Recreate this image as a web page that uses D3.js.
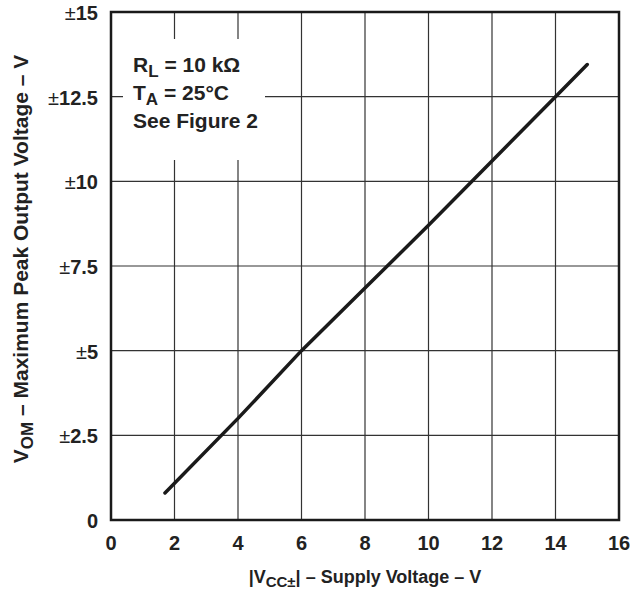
<!DOCTYPE html>
<html lang="en">
<head>
  <meta charset="UTF-8">
  <title>VOM vs supply voltage</title>
  <script src="https://d3js.org/d3.v7.min.js"></script>
  <style>
    body { margin: 0; padding: 0; background: #fff; }
    svg { display: block; font-family: "Liberation Sans", Arial, sans-serif; font-weight: bold; }
    .grid line { stroke: #333; stroke-width: 1.2px; }
    .tick-label { font-size: 20px; fill: #222; }
    .pm { font-weight: normal; }
  </style>
</head>
<body>
  <svg width="630" height="592"></svg>
  <script>
    // --- data ---
    const supplyV = [1.7, 4, 6, 8, 10, 12, 14, 15];
    const peakV   = [0.8, 3, 5, 6.85, 8.7, 10.6, 12.5, 13.45];
    const xTicks = [0, 2, 4, 6, 8, 10, 12, 14, 16];
    const yTicks = [0, 2.5, 5, 7.5, 10, 12.5, 15];
    const yTickLabels = ["0", "2.5", "5", "7.5", "10", "12.5", "15"];
    const notes = [
      { main: "R", sub: "L", rest: " = 10 k\u03A9" },
      { main: "T", sub: "A", rest: " = 25\u00B0C" },
      { main: "See Figure 2", sub: "", rest: "" }
    ];

    const svg = d3.select("svg");
    const margin = { top: 12, right: 11, bottom: 72, left: 111 };
    const W = 630 - margin.left - margin.right;
    const H = 592 - margin.top - margin.bottom;
    const g = svg.append("g").attr("transform", `translate(${margin.left},${margin.top})`);

    const x = d3.scaleLinear().domain([0, 16]).range([0, W]);
    const y = d3.scaleLinear().domain([0, 15]).range([H, 0]);

    // grid
    const grid = g.append("g").attr("class", "grid");
    grid.selectAll(".vx").data(xTicks.slice(1, -1)).enter().append("line")
      .attr("x1", d => x(d)).attr("x2", d => x(d)).attr("y1", 0).attr("y2", H);
    grid.selectAll(".hy").data(yTicks.slice(1, -1)).enter().append("line")
      .attr("y1", d => y(d)).attr("y2", d => y(d)).attr("x1", 0).attr("x2", W);

    // white box behind the notes
    g.append("rect").attr("x", 12).attr("y", 27).attr("width", 142).attr("height", 121).attr("fill", "#fff");

    // notes
    const notesG = g.append("text").style("font-size", "21px").attr("fill", "#222");
    notes.forEach((n, i) => {
      notesG.append("tspan").attr("x", 22).attr("y", 60 + i * 28).text(n.main);
      if (n.sub) notesG.append("tspan").attr("dy", 5).style("font-size", "17px").text(n.sub);
      if (n.rest) notesG.append("tspan").attr("dy", n.sub ? -5 : 0).text(n.rest);
    });

    // data line
    const line = d3.line().x((d, i) => x(supplyV[i])).y((d, i) => y(peakV[i]));
    g.append("path").datum(supplyV).attr("d", line)
      .attr("fill", "none").attr("stroke", "#1a1a1a").attr("stroke-width", 3.5)
      .attr("stroke-linecap", "round");

    // frame
    g.append("rect").attr("width", W).attr("height", H)
      .attr("fill", "none").attr("stroke", "#1a1a1a").attr("stroke-width", 2.5);

    // x tick labels
    g.selectAll(".xl").data(xTicks).enter().append("text")
      .attr("class", "tick-label")
      .attr("x", d => x(d)).attr("y", H + 30)
      .attr("text-anchor", "middle").text(d => d);

    // y tick labels
    const yl = g.selectAll(".yl").data(yTicks).enter().append("text")
      .attr("class", "tick-label")
      .attr("x", -13).attr("y", d => y(d) + 8)
      .attr("text-anchor", "end");
    yl.each(function(d, i) {
      const t = d3.select(this);
      if (d !== 0) t.append("tspan").attr("class", "pm").text("\u00B1");
      t.append("tspan").text(yTickLabels[i]);
    });

    // x axis title
    const xt = svg.append("text").attr("x", margin.left + W / 2).attr("y", 583)
      .attr("text-anchor", "middle").style("font-size", "18px").attr("fill", "#222");
    xt.append("tspan").text("|V");
    xt.append("tspan").attr("dy", 4).style("font-size", "15px").text("CC\u00B1");
    xt.append("tspan").attr("dy", -4).text("| \u2013 Supply Voltage \u2013 V");

    // y axis title
    const yt = svg.append("text")
      .attr("transform", "translate(28,259) rotate(-90)")
      .attr("text-anchor", "middle").style("font-size", "21px").attr("fill", "#222");
    yt.append("tspan").text("V");
    yt.append("tspan").attr("dy", 5).style("font-size", "17px").text("OM");
    yt.append("tspan").attr("dy", -5).text(" \u2013 Maximum Peak Output Voltage \u2013 V");
  </script>
</body>
</html>
